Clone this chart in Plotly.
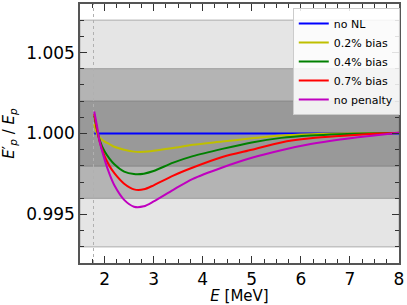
import plotly.graph_objects as go

E = [1.79, 1.85, 1.9, 2.0, 2.1, 2.2, 2.4, 2.6, 2.8, 3.0, 3.4, 3.8, 4.4, 5.0, 5.6, 6.2, 6.8, 7.4, 8.0]

no_nl = [1.0] * len(E)
bias_02 = [1.00058, 0.99995, 0.99975, 0.9995, 0.99935, 0.99918, 0.999, 0.99888, 0.99887, 0.99893,
           0.9991, 0.9993, 0.9995, 0.9997, 0.99988, 0.99996, 1.0, 1.00002, 1.00003]
bias_04 = [1.0011, 1.0002, 0.9996, 0.9989, 0.99845, 0.9981, 0.99765, 0.9975, 0.99752, 0.99768,
           0.9982, 0.9986, 0.99905, 0.99945, 0.99973, 0.99988, 0.99996, 1.0, 1.00003]
bias_07 = [1.0012, 1.0002, 0.9995, 0.9986, 0.998, 0.99755, 0.9969, 0.99655, 0.99655, 0.9968,
           0.9974, 0.9979, 0.99855, 0.999, 0.99945, 0.9997, 0.99985, 0.99997, 1.00005]
no_penalty = [1.00136, 1.0004, 0.9995, 0.9984, 0.9975, 0.9968, 0.9959, 0.99548, 0.9955, 0.9958,
              0.99652, 0.9972, 0.9979, 0.9985, 0.99897, 0.99935, 0.99963, 0.99985, 1.00005]

series_names = ["no NL", "0.2% bias", "0.4% bias", "0.7% bias", "no penalty"]
series_vals = [no_nl, bias_02, bias_04, bias_07, no_penalty]
colors = ["#0000ff", "#bfbf00", "#008000", "#ff0000", "#bf00bf"]

bands = [(0.993, 1.007, "#e5e5e5", "#c2c2c2"),
         (0.996, 1.004, "#b4b4b4", "#a9a9a9"),
         (0.998, 1.002, "#999999", "#8f8f8f")]
threshold = 1.775

fig = go.Figure()
for name, vals, c in zip(series_names, series_vals, colors):
    fig.add_trace(go.Scatter(x=E, y=vals, mode="lines", name=name,
                             line=dict(color=c, width=2, shape="spline", smoothing=0.8)))

for lo, hi, fc, lc in bands:
    fig.add_shape(type="rect", xref="paper", yref="y", x0=0, x1=1, y0=lo, y1=hi,
                  fillcolor=fc, line=dict(color=lc, width=1.5), layer="below")

fig.add_shape(type="line", xref="x", yref="paper", x0=threshold, x1=threshold, y0=0, y1=1,
              line=dict(color="#b0b0b0", width=1, dash="dot"), layer="below")

font = "DejaVu Sans"
fig.update_layout(
    width=407, height=305,
    margin=dict(l=80, r=8, t=2, b=42),
    paper_bgcolor="white", plot_bgcolor="white",
    font=dict(family=font, color="black"),
    legend=dict(x=0.667, y=0.985, xanchor="left", yanchor="top",
                bgcolor="rgba(255,255,255,0.85)", bordercolor="#cccccc", borderwidth=1,
                font=dict(size=11, family=font), tracegroupgap=0, itemwidth=30),
    xaxis=dict(range=[1.5, 8], tickvals=[2, 3, 4, 5, 6, 7, 8], ticks="inside", ticklen=7,
               tickcolor="#333", showgrid=False, zeroline=False,
               showline=True, linecolor="#555", linewidth=1.5, mirror="allticks",
               tickfont=dict(size=17),
               minor=dict(dtick=0.25, ticks="inside", ticklen=4, tickcolor="#333", showgrid=False),
               title=dict(text="<i>E</i> [MeV]", font=dict(size=15), standoff=2)),
    yaxis=dict(range=[0.992, 1.008], tickvals=[0.995, 1.0, 1.005], tickformat=".3f",
               ticks="inside", ticklen=7, tickcolor="#333", showgrid=False, zeroline=False,
               showline=True, linecolor="#555", linewidth=1.5, mirror="allticks",
               tickfont=dict(size=17),
               minor=dict(dtick=0.001, ticks="inside", ticklen=4, tickcolor="#333", showgrid=False),
               title=dict(text="<i>E</i>′<sub><i>p</i></sub> / <i>E</i><sub><i>p</i></sub>",
                          font=dict(size=15), standoff=8)),
)

fig.write_html("out.html", config={"displayModeBar": False},
               post_script="document.body.style.margin='0';document.body.style.overflow='hidden';")
